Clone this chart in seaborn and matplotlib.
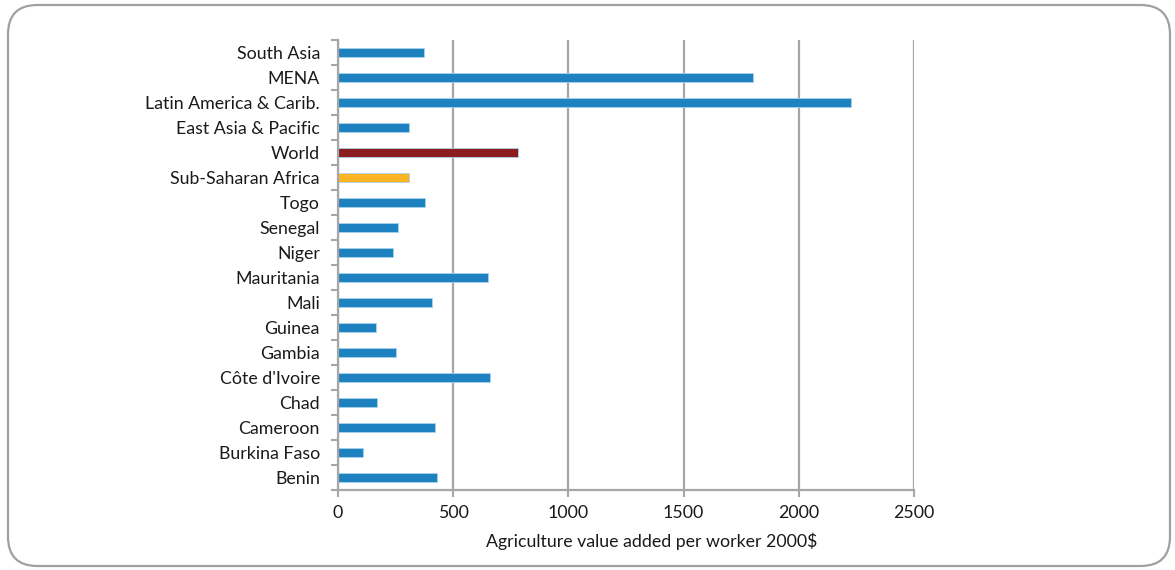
import numpy as np
import pandas as pd
import matplotlib
matplotlib.use("Agg")
import matplotlib.pyplot as plt
from matplotlib.patches import FancyBboxPatch
import seaborn as sns

categories = ["South Asia", "MENA", "Latin America & Carib.", "East Asia & Pacific",
              "World", "Sub-Saharan Africa", "Togo", "Senegal", "Niger", "Mauritania",
              "Mali", "Guinea", "Gambia", "Côte d'Ivoire", "Chad", "Cameroon",
              "Burkina Faso", "Benin"]
values = [375, 1800, 2226, 306, 783, 310, 378, 262, 240, 652,
          407, 166, 252, 660, 170, 422, 108, 429]
x_ticks = [0, 500, 1000, 1500, 2000, 2500]
x_label = "Agriculture value added per worker 2000$"

blue, red, gold = "#1f82c0", "#8b1d21", "#fbb522"
bar_colors = {c: blue for c in categories}
bar_colors["World"] = red
bar_colors["Sub-Saharan Africa"] = gold

df = pd.DataFrame({"category": categories, "value": values})

sns.set_theme(style="white")
plt.rcParams["font.family"] = ["Lato", "DejaVu Sans"]

fig = plt.figure(figsize=(11.75, 5.7), dpi=100)
ax = fig.add_axes([338 / 1175, 1 - 490 / 570, 576 / 1175, 450 / 570])

sns.barplot(data=df, x="value", y="category", hue="category", order=categories,
            palette=bar_colors, saturation=1, orient="h", width=0.38, legend=False,
            edgecolor="#a9d3ee", linewidth=0.6, ax=ax)

grid_c = "#a6a6a6"
txt_c = "#1a1a1a"
fs = 12.8
ax.set_xlim(0, 2500)
ax.set_xticks(x_ticks)
ax.set_xticklabels([str(t) for t in x_ticks], fontsize=fs, color=txt_c)
ax.xaxis.grid(True, color=grid_c, linewidth=1.6)
ax.set_axisbelow(True)
ax.set_xlabel(x_label, fontsize=fs, color=txt_c)
ax.xaxis.set_label_coords(0.545, -0.095)
ax.set_ylabel("")

ax.set_yticks(range(len(categories)))
ax.set_yticklabels(categories, fontsize=fs, color=txt_c)
ax.set_yticks(np.arange(-0.5, len(categories), 1), minor=True)
ax.set_ylim(len(categories) - 0.5, -0.5)
ax.tick_params(axis="y", which="major", length=0, pad=13)
ax.tick_params(axis="y", which="minor", length=5, width=1.5, color=grid_c, left=True)
ax.tick_params(axis="x", which="major", length=5, width=1.5, color=grid_c, bottom=True, pad=6)

for side in ("top", "right"):
    ax.spines[side].set_visible(False)
for side in ("left", "bottom"):
    ax.spines[side].set_color(grid_c)
    ax.spines[side].set_linewidth(1.6)

frame = FancyBboxPatch((8 / 1175, 4 / 570), 1162 / 1175, 561 / 570,
                       boxstyle="round,pad=0,rounding_size=0.025",
                       transform=fig.transFigure, fill=False,
                       edgecolor="#a0a0a4", linewidth=1.6,
                       mutation_aspect=1175 / 570)
fig.patches.append(frame)

fig.savefig("out.png", dpi=100)
